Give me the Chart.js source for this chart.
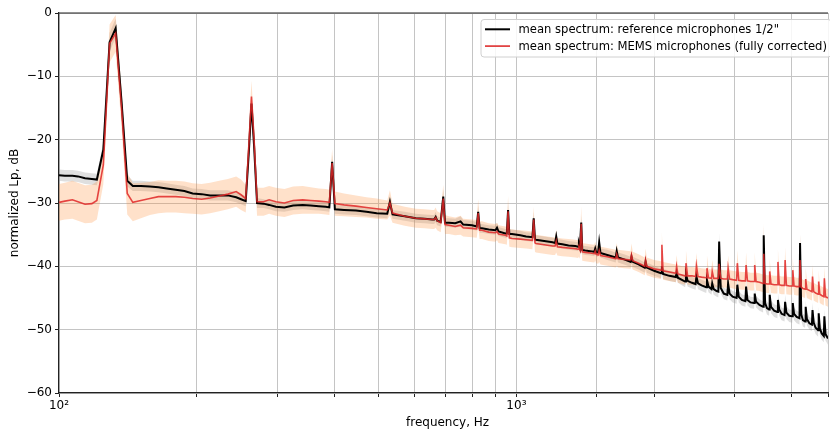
<!DOCTYPE html>
<html>
<head>
<meta charset="utf-8">
<script src="https://cdn.jsdelivr.net/npm/chart.js@4.4.1/dist/chart.umd.min.js"></script>
<style>
  html, body { margin: 0; padding: 0; background: #ffffff; }
  #wrap { width: 830px; height: 432px; }
</style>
</head>
<body>
<div id="wrap"><canvas id="c" width="830" height="432"></canvas></div>
<script>
// Frequency grid of the averaged spectra (Hz)
const freqHz = [
  100, 103, 107, 110, 114, 118, 121, 125, 129, 133, 137, 141,
  145, 151, 158, 165, 172, 180, 188, 196, 205, 214, 224, 234, 244, 250, 256,
  260, 263.5, 267, 271,
  280, 288, 298, 311, 325, 341, 355, 370, 383, 390, 395.5, 401,
  420, 446, 470, 495, 522, 529, 536, 570, 603, 630, 655, 661, 666, 671, 683, 692, 698, 712,
  735, 755, 765, 800, 819, 825, 831, 841, 870, 900, 907, 914, 946, 953, 959, 965, 978, 1020, 1050, 1084, 1091, 1098, 1103,
  1150, 1200, 1215, 1222, 1229, 1260, 1300, 1345, 1364, 1370, 1377, 1386, 1393, 1414, 1450, 1480, 1487, 1494, 1509, 1517, 1527,
  1580, 1649, 1657, 1668, 1720, 1777, 1785, 1796, 1850, 1908, 1916, 1928, 2000, 2071, 2080, 2092, 2160, 2231, 2240, 2254,
  2338, 2348, 2368, 2420, 2465, 2475, 2495, 2540, 2600, 2610, 2630, 2670, 2680, 2700, 2740, 2764, 2775, 2797,
  2840, 2892, 2903, 2925, 2970, 3030, 3041, 3063, 3110, 3167, 3178, 3200, 3250, 3308, 3319, 3342, 3400, 3462, 3473, 3497,
  3530, 3568, 3579, 3603, 3660, 3720, 3731, 3755, 3800, 3857, 3868, 3893, 3950, 4009, 4020, 4046, 4100, 4159, 4170, 4196,
  4230, 4277, 4290, 4316, 4370, 4427, 4440, 4466, 4510, 4567, 4580, 4606, 4650, 4700, 4713, 4740, 4800, 5000
];

// Mean level of the 1/2" reference microphones (dB)
const refLevel = [
  -25.6, -25.7, -25.7, -25.8, -26.1, -26.2, -26.3, -21.6, -4.6, -2.4, -14.0, -26.5,
  -27.3, -27.3, -27.4, -27.5, -27.7, -27.9, -28.1, -28.5, -28.6, -28.8, -28.8, -28.8, -29.1, -29.4, -29.7,
  -22.0, -14.3, -21.0, -30.0,
  -30.1, -30.3, -30.6, -30.7, -30.4, -30.3, -30.4, -30.5, -30.6, -30.7, -23.5, -31.0,
  -31.1, -31.2, -31.4, -31.6, -31.7, -29.8, -31.8, -32.1, -32.4, -32.5, -32.6, -32.6, -32.2, -32.8, -33.0, -29.0, -33.1, -33.1,
  -33.2, -32.9, -33.4, -33.5, -33.7, -31.4, -34.0, -34.0, -34.2, -34.3, -33.9, -34.5, -34.8, -34.8, -31.1, -34.9, -34.9, -35.1, -35.3, -35.4, -32.4, -35.7, -35.8,
  -36.0, -36.2, -36.3, -35.3, -36.4, -36.5, -36.7, -36.8, -36.9, -36.4, -37.0, -33.1, -37.4, -37.5, -37.6, -37.7, -37.2, -37.8, -37.8, -36.2, -37.9,
  -38.2, -38.6, -37.6, -38.6, -38.9, -39.3, -38.5, -39.3, -39.7, -40.2, -39.3, -40.2, -40.7, -41.1, -40.0, -41.2, -41.5, -41.7, -41.0, -41.8,
  -42.4, -41.2, -42.3, -42.6, -42.8, -41.6, -42.7, -43.0, -43.3, -42.2, -43.2, -43.6, -42.7, -43.6, -43.9, -44.0, -36.1, -43.4,
  -44.3, -44.5, -42.7, -44.3, -44.8, -45.0, -42.9, -44.8, -45.3, -45.5, -43.2, -45.3, -45.7, -45.8, -44.3, -45.6, -46.1, -46.4, -35.1, -45.8,
  -46.6, -46.8, -44.5, -46.4, -47.0, -47.2, -45.3, -46.8, -47.5, -47.7, -45.6, -47.3, -47.8, -47.9, -45.8, -47.5, -48.0, -48.2, -36.3, -47.6,
  -48.5, -48.7, -46.4, -48.3, -49.0, -49.2, -46.9, -48.9, -49.7, -50.1, -47.4, -49.8, -50.6, -51.0, -47.9, -50.7, -51.4, -52.0
];

// Spread (± dB) across the reference microphones
const refSpread = [
  0.9, 0.9, 0.9, 0.9, 0.9, 0.9, 0.9, 1.2, 1.5, 1.5, 1.5, 0.9,
  0.8, 0.8, 0.8, 0.8, 0.8, 0.8, 0.8, 0.8, 0.8, 0.8, 0.8, 0.8, 0.8, 0.8, 0.8,
  1.2, 1.5, 1.2, 0.8,
  0.7, 0.7, 0.7, 0.7, 0.7, 0.7, 0.7, 0.7, 0.7, 0.7, 1.2, 0.7,
  0.7, 0.7, 0.7, 0.7, 0.7, 1.0, 0.7, 0.7, 0.7, 0.7, 0.7, 0.7, 0.8, 0.7, 0.7, 1.2, 0.7, 0.7,
  0.7, 0.8, 0.7, 0.7, 0.7, 1.0, 0.7, 0.7, 0.7, 0.7, 0.8, 0.7, 0.7, 0.7, 1.1, 0.7, 0.7, 0.7, 0.7, 0.7, 1.0, 0.7, 0.7,
  0.7, 0.7, 0.7, 0.9, 0.7, 0.7, 0.7, 0.7, 0.7, 0.8, 0.7, 1.2, 0.7, 0.7, 0.7, 0.7, 0.8, 0.7, 0.7, 0.9, 0.7,
  0.8, 0.8, 0.9, 0.8, 0.8, 0.8, 0.9, 0.8, 0.8, 0.8, 0.9, 0.8, 0.8, 0.8, 0.9, 0.8, 0.8, 0.8, 0.9, 0.8,
  0.9, 1.0, 0.9, 0.9, 0.9, 1.0, 0.9, 0.9, 0.9, 1.0, 0.9, 0.9, 1.0, 0.9, 0.9, 0.9, 1.4, 0.9,
  0.9, 0.9, 1.0, 0.9, 0.9, 0.9, 1.0, 0.9, 0.9, 0.9, 1.0, 0.9, 0.9, 0.9, 1.0, 0.9, 0.9, 0.9, 1.5, 0.9,
  1.0, 1.0, 1.1, 1.0, 1.0, 1.0, 1.1, 1.0, 1.0, 1.0, 1.1, 1.0, 1.0, 1.0, 1.1, 1.0, 1.0, 1.0, 1.5, 1.0,
  1.0, 1.0, 1.1, 1.0, 1.0, 1.0, 1.1, 1.0, 1.0, 1.0, 1.1, 1.0, 1.0, 1.0, 1.1, 1.0, 1.0, 1.0
];

// Mean level of the MEMS microphones after full correction (dB)
const memsLevel = [
  -29.9, -29.7, -29.5, -29.8, -30.2, -30.1, -29.6, -24.0, -4.8, -3.2, -15.0, -28.5,
  -29.9, -29.6, -29.3, -29.0, -29.0, -29.0, -29.1, -29.3, -29.4, -29.2, -28.9, -28.6, -28.2, -28.7, -29.3,
  -21.0, -13.2, -20.0, -29.8,
  -29.8, -29.5, -29.8, -30.0, -29.6, -29.5, -29.6, -29.7, -29.8, -29.9, -23.7, -30.1,
  -30.3, -30.5, -30.7, -30.9, -31.1, -30.0, -31.6, -32.1, -32.4, -32.5, -32.6, -32.6, -32.3, -32.8, -33.1, -29.3, -33.4, -33.5,
  -33.7, -33.5, -33.9, -34.0, -34.1, -31.6, -34.3, -34.3, -34.6, -34.7, -34.5, -34.9, -35.1, -35.2, -31.3, -35.5, -35.6, -35.7, -35.8, -35.9, -32.6, -36.3, -36.4,
  -36.6, -36.8, -36.8, -36.0, -36.9, -37.0, -37.1, -37.2, -37.3, -37.0, -37.4, -33.3, -37.7, -37.8, -37.9, -38.0, -37.6, -38.1, -38.2, -37.5, -38.3,
  -38.5, -38.8, -38.1, -38.8, -38.9, -39.0, -38.2, -39.1, -39.5, -40.0, -39.0, -40.0, -40.4, -40.6, -36.6, -40.7, -40.9, -41.1, -40.0, -41.2,
  -41.5, -39.5, -41.5, -41.5, -41.6, -39.9, -41.6, -41.7, -41.8, -40.3, -41.8, -41.9, -40.8, -41.9, -41.9, -41.9, -39.6, -41.9,
  -42.0, -42.0, -40.3, -42.0, -42.1, -42.2, -39.5, -42.2, -42.3, -42.3, -39.8, -42.3, -42.4, -42.4, -39.8, -42.4, -42.5, -42.7, -38.0, -42.7,
  -42.8, -42.8, -40.8, -42.8, -42.9, -42.9, -39.3, -42.9, -43.0, -43.0, -39.0, -43.0, -43.1, -43.1, -40.6, -43.1, -43.2, -43.2, -39.0, -43.3,
  -43.5, -43.6, -42.0, -43.6, -43.8, -44.0, -41.6, -44.0, -44.2, -44.4, -42.4, -44.4, -44.6, -44.8, -41.9, -44.8, -45.0, -45.3
];

// Spread (± dB) across the MEMS microphones
const memsSpread = [
  2.9, 2.9, 3.0, 3.0, 3.0, 3.0, 3.0, 3.0, 3.0, 2.9, 3.0, 3.3,
  3.0, 2.8, 2.6, 2.6, 2.5, 2.5, 2.5, 2.4, 2.4, 2.4, 2.4, 2.4, 2.4, 2.4, 2.2,
  2.4, 2.5, 2.4, 2.2,
  2.2, 2.2, 2.2, 2.2, 2.2, 2.2, 2.1, 2.0, 2.0, 2.0, 2.2, 1.9,
  1.8, 1.7, 1.6, 1.6, 1.5, 2.0, 1.5, 1.5, 1.5, 1.5, 1.5, 1.5, 1.6, 1.5, 1.5, 2.2, 1.5, 1.4,
  1.4, 1.5, 1.4, 1.4, 1.4, 2.2, 1.4, 1.4, 1.4, 1.4, 1.4, 1.4, 1.4, 1.4, 2.4, 1.4, 1.4, 1.4, 1.4, 1.4, 2.0, 1.4, 1.4,
  1.4, 1.4, 1.4, 1.8, 1.4, 1.4, 1.4, 1.4, 1.4, 1.5, 1.4, 2.8, 1.4, 1.4, 1.4, 1.4, 1.5, 1.4, 1.4, 1.8, 1.4,
  1.4, 1.4, 1.8, 1.4, 1.4, 1.4, 1.8, 1.4, 1.4, 1.4, 1.8, 1.4, 1.4, 1.4, 2.0, 1.4, 1.4, 1.4, 1.8, 1.4,
  1.4, 2.0, 1.4, 1.4, 1.4, 2.0, 1.4, 1.4, 1.4, 2.0, 1.4, 1.4, 1.8, 1.4, 1.4, 1.4, 3.5, 1.4,
  1.4, 1.4, 2.0, 1.4, 1.4, 1.4, 2.0, 1.4, 1.4, 1.4, 2.0, 1.4, 1.4, 1.4, 2.0, 1.4, 1.4, 1.4, 4.8, 1.4,
  1.4, 1.4, 2.0, 1.4, 1.4, 1.4, 2.0, 1.4, 1.4, 1.4, 2.0, 1.4, 1.4, 1.4, 2.0, 1.4, 1.4, 1.4, 4.0, 1.4,
  1.4, 1.4, 1.8, 1.4, 1.4, 1.4, 1.8, 1.4, 1.4, 1.4, 1.8, 1.4, 1.4, 1.4, 1.8, 1.4, 1.4, 1.4
];

const seriesLabels = [
  'mean spectrum: reference microphones 1/2"',
  'mean spectrum: MEMS microphones (fully corrected)'
];
const yTicks = [-60, -50, -40, -30, -20, -10, 0];
const xTickLabels = { 100: '10\u00B2', 1000: '10\u00B3' };
const axisTitles = { x: 'frequency, Hz', y: 'normalized Lp, dB' };
const xAxisEnd = 5000;   // the axes run to 5 kHz; the page shows up to ~4.8 kHz

[refLevel, refSpread, memsLevel, memsSpread].forEach(a => {
  if (a.length !== freqHz.length) throw new Error('array length ' + a.length + ' vs ' + freqHz.length);
});

const pts = (lv) => freqHz.map((f, i) => ({ x: f, y: lv[i] }));
const edge = (lv, sp, s) => freqHz.map((f, i) => ({ x: f, y: lv[i] + s * sp[i] }));

const FONT = 'DejaVu Sans';
Chart.defaults.font.family = FONT;
Chart.defaults.font.size = 12;
Chart.defaults.color = '#000';

const bandBase = { borderWidth: 0, pointRadius: 0, tension: 0 };

// top spine, x-axis title and the framed legend in the upper right corner
const framePlugin = {
  id: 'frame',
  afterDatasetsDraw(chart) {
    const { ctx, chartArea: a } = chart;
    ctx.save();
    ctx.strokeStyle = '#222';
    ctx.lineWidth = 1.2;
    ctx.beginPath();
    ctx.moveTo(a.left, a.top);
    ctx.lineTo(a.right, a.top);
    ctx.stroke();
    ctx.restore();
  },
  afterDraw(chart) {
    const { ctx, chartArea: a } = chart;
    const xs = chart.scales.x;
    const axesRight = xs.getPixelForValue(xAxisEnd);
    ctx.save();
    // x-axis title, centred on the full axes width
    ctx.font = '12px "' + FONT + '"';
    ctx.fillStyle = '#000';
    ctx.textAlign = 'center';
    ctx.textBaseline = 'middle';
    ctx.fillText(axisTitles.x, (a.left + axesRight) / 2, 422.5);

    const x0 = 481, y0 = 19.5, w = axesRight - 5 - x0, h = 37.5, r = 3;
    ctx.beginPath();
    ctx.moveTo(x0 + r, y0);
    ctx.lineTo(x0 + w - r, y0);
    ctx.arcTo(x0 + w, y0, x0 + w, y0 + r, r);
    ctx.lineTo(x0 + w, y0 + h - r);
    ctx.arcTo(x0 + w, y0 + h, x0 + w - r, y0 + h, r);
    ctx.lineTo(x0 + r, y0 + h);
    ctx.arcTo(x0, y0 + h, x0, y0 + h - r, r);
    ctx.lineTo(x0, y0 + r);
    ctx.arcTo(x0, y0, x0 + r, y0, r);
    ctx.closePath();
    ctx.fillStyle = 'rgba(255,255,255,0.85)';
    ctx.fill();
    ctx.strokeStyle = '#d0d0d0';
    ctx.lineWidth = 1;
    ctx.stroke();
    const rows = [
      { label: seriesLabels[0], color: '#000000', lw: 2 },
      { label: seriesLabels[1], color: '#e03a3a', lw: 1.7 }
    ];
    ctx.font = '11.6px "' + FONT + '"';
    ctx.textBaseline = 'alphabetic';
    ctx.textAlign = 'left';
    rows.forEach((row, i) => {
      const yc = 29.3 + i * 16.8;
      ctx.strokeStyle = row.color;
      ctx.lineWidth = row.lw;
      ctx.beginPath();
      ctx.moveTo(485, yc);
      ctx.lineTo(510, yc);
      ctx.stroke();
      ctx.fillStyle = '#000';
      ctx.fillText(row.label, 518.5, yc + 3.6);
    });
    ctx.restore();
  }
};

new Chart(document.getElementById('c'), {
  type: 'line',
  data: {
    datasets: [
      Object.assign({ label: 'ref upper', data: edge(refLevel, refSpread, 1), fill: '+1',
        backgroundColor: 'rgba(150,150,150,0.30)', order: 6 }, bandBase),
      Object.assign({ label: 'ref lower', data: edge(refLevel, refSpread, -1), fill: false, order: 6 }, bandBase),
      Object.assign({ label: 'mems upper', data: edge(memsLevel, memsSpread, 1), fill: '+1',
        backgroundColor: 'rgba(255,140,50,0.26)', order: 5 }, bandBase),
      Object.assign({ label: 'mems lower', data: edge(memsLevel, memsSpread, -1), fill: false, order: 5 }, bandBase),
      { label: seriesLabels[0], data: pts(refLevel), borderColor: '#000000', borderWidth: 2,
        pointRadius: 0, tension: 0, fill: false, order: 2 },
      { label: seriesLabels[1], data: pts(memsLevel), borderColor: 'rgba(224,40,40,0.85)', borderWidth: 1.6,
        pointRadius: 0, tension: 0, fill: false, order: 1 }
    ]
  },
  options: {
    responsive: false,
    animation: false,
    devicePixelRatio: 1,
    events: [],
    layout: { padding: { top: 13, right: 0, bottom: 0, left: 0 } },
    plugins: { legend: { display: false }, tooltip: { enabled: false } },
    scales: {
      x: {
        type: 'logarithmic',
        min: 100,
        max: 4800,
        afterFit: (s) => { s.height = 39; },
        grid: { color: '#c4c4c4', lineWidth: 1, tickColor: '#222', tickLength: 4 },
        border: { color: '#222', width: 1.2 },
        ticks: {
          autoSkip: false, maxRotation: 0, padding: 2,
          font: { size: 12 },
          callback: (v) => xTickLabels[Math.round(v)] || ''
        },
        title: { display: false }
      },
      y: {
        type: 'linear',
        min: yTicks[0],
        max: yTicks[yTicks.length - 1],
        afterFit: (s) => { s.width = 59; },
        afterBuildTicks: (s) => { s.ticks = yTicks.map(v => ({ value: v })); },
        grid: { color: '#c4c4c4', lineWidth: 1, tickColor: '#222', tickLength: 4 },
        border: { color: '#222', width: 1.2 },
        ticks: {
          padding: 3, font: { size: 12 },
          callback: (v) => (v < 0 ? '\u2212' + Math.abs(v) : String(v))
        },
        title: { display: true, text: axisTitles.y, font: { size: 12 }, padding: { top: 8, bottom: 0 } }
      }
    }
  },
  plugins: [framePlugin]
});
</script>
</body>
</html>
